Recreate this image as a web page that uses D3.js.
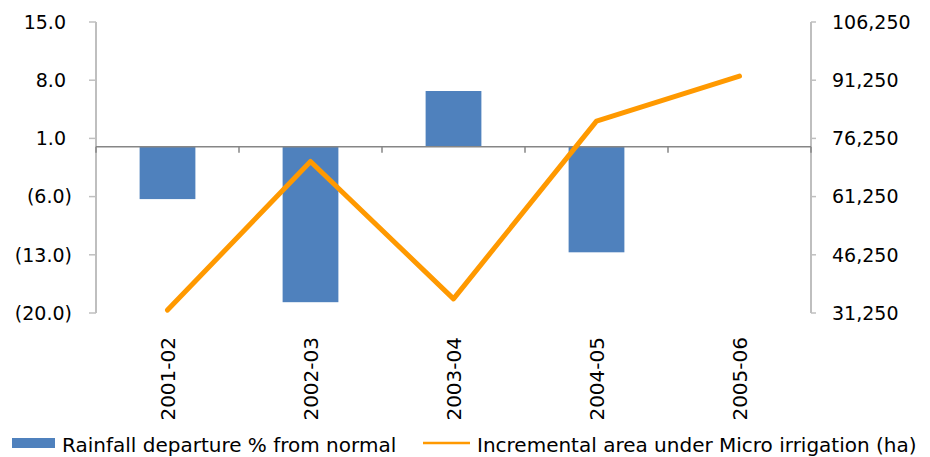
<!DOCTYPE html>
<html lang="en">
<head>
    <meta charset="UTF-8">
    <title>Rainfall vs micro irrigation</title>
    <script src="https://cdn.jsdelivr.net/npm/d3@7"></script>
    <style>
        body { margin: 0; background: #fff; }
        text { font-family: "DejaVu Sans", Verdana, sans-serif; fill: #000; }
    </style>
</head>
<body>
<script>
    const years = ['2001-02', '2002-03', '2003-04', '2004-05', '2005-06']
    const rainfall = [-6.3, -18.7, 6.7, -12.7, 0]
    const area = [32000, 70300, 34900, 80700, 92300]
    const leftTicks = [-20, -13, -6, 1, 8, 15]
    const rightTicks = [31250, 46250, 61250, 76250, 91250, 106250]

    const [width, height] = [930, 457]
    const [plotL, plotR, plotT, plotB] = [96, 811, 22, 313]

    const svg = d3.select('body').append('svg')
        .attr('width', width)
        .attr('height', height)

    const x = d3.scaleBand().domain(years).range([plotL, plotR])
    const yL = d3.scaleLinear().domain([-20, 15]).range([plotB, plotT])
    const yR = d3.scaleLinear().domain([31250, 106250]).range([plotB, plotT])

    // left axis
    const fmtL = d => d < 0 ? `(${d3.format('.1f')(-d)})` : d3.format('.1f')(d)
    const gL = svg.append('g')
    gL.append('line')
        .attr('x1', plotL).attr('x2', plotL)
        .attr('y1', plotT).attr('y2', plotB)
        .attr('stroke', '#bfbfbf').attr('stroke-width', 2)
    gL.selectAll('line.tick').data(leftTicks).enter().append('line')
        .attr('class', 'tick')
        .attr('x1', plotL - 7).attr('x2', plotL)
        .attr('y1', d => yL(d)).attr('y2', d => yL(d))
        .attr('stroke', '#bfbfbf').attr('stroke-width', 1.5)
    gL.selectAll('text').data(leftTicks).enter().append('text')
        .attr('x', d => d < 0 ? 72 : 66)
        .attr('y', d => yL(d))
        .attr('dy', '0.36em')
        .attr('text-anchor', 'end')
        .style('font-size', '19px')
        .text(fmtL)

    // right axis
    const gR = svg.append('g')
    gR.append('line')
        .attr('x1', plotR).attr('x2', plotR)
        .attr('y1', plotT).attr('y2', plotB)
        .attr('stroke', '#bfbfbf').attr('stroke-width', 2)
    gR.selectAll('line.tick').data(rightTicks).enter().append('line')
        .attr('class', 'tick')
        .attr('x1', plotR).attr('x2', plotR + 5)
        .attr('y1', d => yR(d)).attr('y2', d => yR(d))
        .attr('stroke', '#bfbfbf').attr('stroke-width', 1.5)
    gR.selectAll('text').data(rightTicks).enter().append('text')
        .attr('x', 832)
        .attr('y', d => yR(d))
        .attr('dy', '0.36em')
        .style('font-size', '19px')
        .text(d3.format(','))

    // bars
    const bw = x.bandwidth() * 0.39
    svg.selectAll('rect.bar').data(years).enter().append('rect')
        .attr('class', 'bar')
        .attr('x', (d, i) => x(d) + (x.bandwidth() - bw) / 2)
        .attr('y', (d, i) => yL(Math.max(0, rainfall[i])))
        .attr('width', bw)
        .attr('height', (d, i) => Math.abs(yL(rainfall[i]) - yL(0)))
        .attr('fill', '#4f81bd')

    // category baseline
    svg.append('line')
        .attr('x1', plotL).attr('x2', plotR)
        .attr('y1', yL(0)).attr('y2', yL(0))
        .attr('stroke', '#868686').attr('stroke-width', 1.5)
    svg.selectAll('line.cat').data(years.concat(['end'])).enter().append('line')
        .attr('class', 'cat')
        .attr('x1', (d, i) => plotL + i * x.bandwidth())
        .attr('x2', (d, i) => plotL + i * x.bandwidth())
        .attr('y1', yL(0)).attr('y2', yL(0) + 6)
        .attr('stroke', '#868686').attr('stroke-width', 1.5)

    // line
    const line = d3.line()
        .x((d, i) => x(years[i]) + x.bandwidth() / 2)
        .y(d => yR(d))
    svg.append('path').datum(area)
        .attr('d', line)
        .attr('fill', 'none')
        .attr('stroke', '#ff9900')
        .attr('stroke-width', 5)
        .attr('stroke-linecap', 'round')
        .attr('stroke-linejoin', 'round')

    // category labels
    svg.selectAll('text.cat').data(years).enter().append('text')
        .attr('class', 'cat')
        .attr('transform', d => `translate(${x(d) + x.bandwidth() / 2},337) rotate(-90)`)
        .attr('dy', '0.36em')
        .attr('text-anchor', 'end')
        .style('font-size', '20px')
        .text(d => d)

    // legend
    const lg = svg.append('g')
    lg.append('rect')
        .attr('x', 12).attr('y', 438).attr('width', 43).attr('height', 10)
        .attr('fill', '#4f81bd')
    lg.append('text')
        .attr('x', 62).attr('y', 452)
        .style('font-size', '20px')
        .text('Rainfall departure % from normal')
    lg.append('line')
        .attr('x1', 423).attr('x2', 470)
        .attr('y1', 443).attr('y2', 443)
        .attr('stroke', '#ff9900').attr('stroke-width', 2.5)
    lg.append('text')
        .attr('x', 477).attr('y', 452)
        .style('font-size', '20px')
        .text('Incremental area under Micro irrigation (ha)')
</script>
</body>
</html>
